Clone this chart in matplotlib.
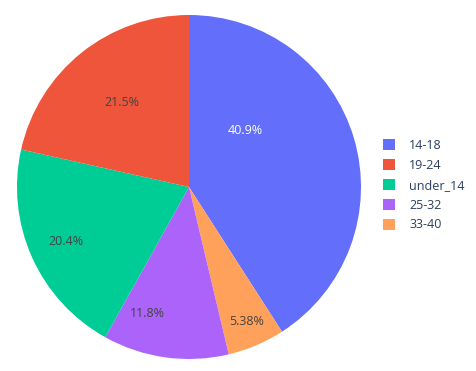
import numpy as np
import matplotlib.pyplot as plt
from matplotlib.patches import Patch

plt.rcParams['font.family'] = ['Open Sans', 'DejaVu Sans']

# datos (porcentajes)
labels = ['14-18', '19-24', 'under_14', '25-32', '33-40']
values = [40.9, 21.5, 20.4, 11.8, 5.38]
colors = ['#636efa', '#EF553B', '#00cc96', '#ab63fa', '#FFA15A']

# orden de dibujo en el sentido del reloj desde las 12
order = [0, 4, 3, 2, 1]
# posicion del texto dentro de cada porcion (radio, giro en grados)
txt_r = {0: 0.465, 1: 0.628, 2: 0.781, 3: 0.772, 4: 0.849}
txt_shift = {0: 29, 1: 0, 2: 0, 3: -10.5, 4: 0}

fig = plt.figure(figsize=(4.77, 3.71), dpi=100)
ax = fig.add_axes([17/477, 12/371, 344/477, 344/371])

vals = [values[i] for i in order]
cols = [colors[i] for i in order]
wedges, _ = ax.pie(vals, colors=cols, startangle=90, counterclock=False,
                   radius=1, wedgeprops=dict(linewidth=0))
tot = sum(values)
for w, i in zip(wedges, order):
    ang = np.deg2rad((w.theta1 + w.theta2) / 2 + txt_shift[i])
    r = txt_r[i]
    c = 'white' if i == 0 else '#444444'
    ax.text(r*np.cos(ang), r*np.sin(ang), '%.3g%%' % (values[i]/tot*100),
            ha='center', va='center', fontsize=9, color=c)
ax.set_xlim(-1, 1)
ax.set_ylim(-1, 1)
ax.set_aspect('equal')
ax.axis('off')

handles = [Patch(facecolor=colors[i], edgecolor='none') for i in range(len(labels))]
leg = fig.legend(handles, labels, loc='upper left',
                 bbox_to_anchor=(383/477, 1-139/371), frameon=False,
                 borderpad=0, borderaxespad=0, fontsize=9,
                 handlelength=1.0, handleheight=1.0, handletextpad=1.1,
                 labelspacing=0.55)
for t in leg.get_texts():
    t.set_color('#2a3f5f')

plt.savefig('out.png', dpi=100)
